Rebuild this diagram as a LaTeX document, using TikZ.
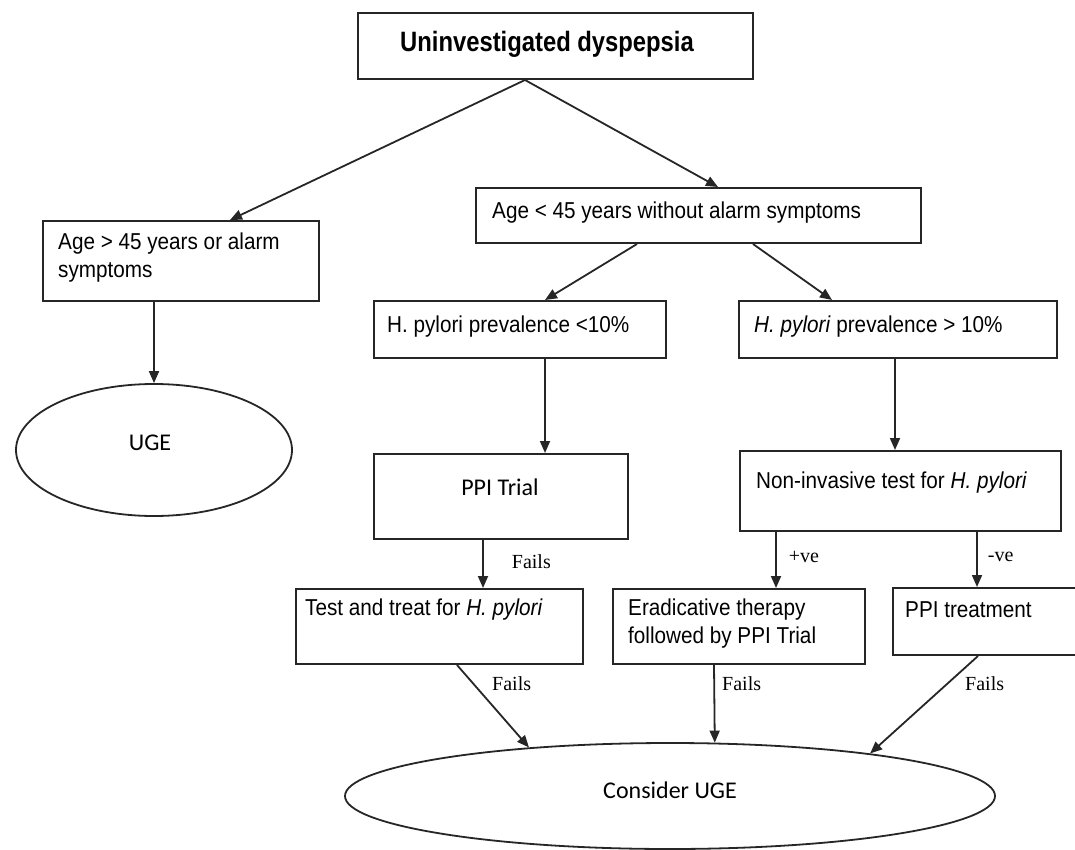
\documentclass[tikz,border=0pt]{standalone}
\usepackage{fontspec}
\setmainfont{Liberation Sans}[FakeStretch=0.9]
\newfontfamily\topf{Liberation Sans}[FakeStretch=0.85]
\newfontfamily\calib{Carlito}
\newfontfamily\timesf{Liberation Serif}
\usetikzlibrary{arrows.meta,shapes.geometric,calc}
\tikzset{
  box/.style={draw=black!85, line width=2pt, rectangle, inner sep=0pt, anchor=north west},
  oval/.style={draw=black!85, line width=1.8pt, ellipse, inner sep=0pt},
  arr/.style={draw=black!85, line width=1.8pt, -{Triangle[length=12pt,width=10pt]}},
  txt/.style={inner sep=0pt, text=black, font=\fontsize{23}{28}\selectfont, align=left},
  ctxt/.style={inner sep=0pt, text=black, font=\calib\fontsize{24}{28}\selectfont},
  lbl/.style={inner sep=0pt, text=black, font=\timesf\fontsize{20}{24}\selectfont, anchor=west},
}
\begin{document}
\begin{tikzpicture}[x=1pt,y=-1pt]
\useasboundingbox (0,0) rectangle (1075,850);
% boxes
\node[box, minimum width=395pt, minimum height=66pt] (top) at (357,12) {};
\node[box, minimum width=276pt, minimum height=80pt] (left) at (42,220) {};
\node[box, minimum width=445pt, minimum height=55pt] (young) at (475,187) {};
\node[box, minimum width=292pt, minimum height=57pt] (hlow) at (373,300) {};
\node[box, minimum width=318pt, minimum height=57pt] (hhigh) at (738,300) {};
\node[box, minimum width=254pt, minimum height=85pt] (ppitrial) at (373,453) {};
\node[box, minimum width=321pt, minimum height=80pt] (noninv) at (739,450) {};
\node[box, minimum width=287pt, minimum height=75pt] (testtreat) at (295,588) {};
\node[box, minimum width=252pt, minimum height=75pt] (erad) at (612,588) {};
\node[box, minimum width=200pt, minimum height=67pt] (ppitreat) at (892,587) {};
\node[oval, minimum width=276pt, minimum height=132pt] (uge) at (154,450) {};
\node[oval, minimum width=650pt, minimum height=106pt] (consider) at (670,796) {};
% texts
\node[txt, anchor=west, font=\topf\bfseries\fontsize{28}{32}\selectfont] (ttop) at (400,44) {Uninvestigated dyspepsia};
\node[txt, anchor=west] (tleft) at (58,258) {Age > 45 years or alarm\\symptoms};
\node[txt, anchor=west] (tyoung) at (492,213) {Age < 45 years without alarm symptoms};
\node[txt, anchor=west] (thlow) at (387,327) {H. pylori prevalence <10\%};
\node[txt, anchor=west] (thhigh) at (754,327) {\textit{H. pylori} prevalence > 10\%};
\node[ctxt] (tuge) at (150,443) {UGE};
\node[ctxt] (tppitrial) at (500,487) {PPI Trial};
\node[txt, anchor=west] (tnoninv) at (756,483) {Non-invasive test for \textit{H. pylori}};
\node[txt, anchor=west] (ttest) at (305,610) {Test and treat for \textit{H. pylori}};
\node[txt, anchor=west] (terad) at (628,624) {Eradicative therapy\\followed by PPI Trial};
\node[txt, anchor=west] (tppitreat) at (905,610) {PPI treatment};
\node[ctxt] (tconsider) at (670,790) {Consider UGE};
% connectors
\draw[arr] ($(top.south west)+(168,0)$) -- ($(left.north west)+(188,0)$);
\draw[arr] ($(top.south west)+(168,0)$) -- ($(young.north west)+(243,0)$);
\draw[arr] (left.south -| uge.north) -- (uge.north);
\draw[arr] ($(young.south west)+(162,0)$) -- ($(hlow.north west)+(172,0)$);
\draw[arr] ($(young.south west)+(278,0)$) -- ($(hhigh.north west)+(94,0)$);
\draw[arr] ($(hlow.south west)+(172,0)$) -- ($(ppitrial.north west)+(172,0)$);
\draw[arr] ($(hhigh.south west)+(157,0)$) -- ($(noninv.north west)+(156,0)$);
\draw[arr] ($(ppitrial.south west)+(110,0)$) -- node[lbl, pos=0.45, xshift=28pt] (f1) {Fails} ($(testtreat.north west)+(188,0)$);
\draw[arr] ($(noninv.south west)+(37,0)$) -- node[lbl, pos=0.45, xshift=12pt] (pve) {+ve} ($(erad.north west)+(164,0)$);
\draw[arr] ($(noninv.south west)+(238,0)$) -- node[lbl, pos=0.45, xshift=10pt] (nve) {-ve} ($(ppitreat.north west)+(85,0)$);
\draw[arr] ($(testtreat.south west)+(162,0)$) -- (consider.161.4);
\draw[arr] ($(erad.south west)+(102,0)$) -- (consider.50);
\draw[arr] ($(ppitreat.south west)+(86,0)$) -- (consider.12.97);
\node[lbl] (f2) at (492,684) {Fails};
\node[lbl] (f3) at (722,684) {Fails};
\node[lbl] (f4) at (965,684) {Fails};
\end{tikzpicture}
\end{document}
